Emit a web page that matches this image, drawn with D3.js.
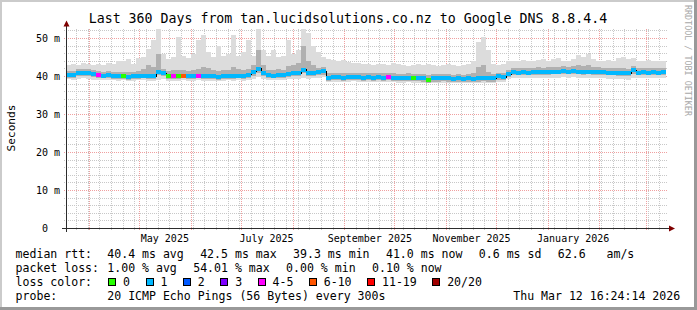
<!DOCTYPE html>
<html>
<head>
<meta charset="utf-8">
<script src="https://cdn.jsdelivr.net/npm/d3@7"></script>
<style>
  html, body { margin: 0; padding: 0; background: #fff; }
  svg text { font-family: "DejaVu Sans Mono", monospace; white-space: pre; }
</style>
</head>
<body>
<svg id="chart" width="697" height="310"></svg>
<script>
// time span of the graph (NZ local time, handled as UTC so the sandbox TZ does not matter)
const END = Date.UTC(2026, 2, 12, 16, 24, 14);
const DAY = 864e5;
const START = END - 360 * DAY;
const BIN_DAYS = 3; // each value below covers 3 days

const TITLE = "Last 360 Days from tan.lucidsolutions.co.nz to Google DNS 8.8.4.4";
const yTicks = [0, 10, 20, 30, 40, 50];

// median rtt (ms) per bin
const median = [
  40.3, 40.4, 40.8, 41.0, 41.0, 40.6, 40.3, 40.2, 40.3, 40.1,
  40.0, 40.0, 39.9, 40.0, 40.1, 40.2, 40.0, 40.1, 41.2, 40.9,
  40.0, 40.1, 40.0, 40.2, 40.1, 40.0, 40.2, 40.0, 40.1, 40.0,
  39.9, 40.0, 40.1, 40.0, 40.2, 40.0, 40.5, 41.2, 42.0, 40.8,
  40.3, 40.2, 40.4, 40.3, 40.6, 40.8, 40.8, 41.8, 40.8, 41.0,
  41.1, 41.4, 39.7, 39.8, 39.8, 39.7, 39.8, 39.9, 39.8, 39.7,
  39.8, 39.7, 39.8, 39.7, 39.8, 39.7, 39.6, 39.6, 39.7, 39.6,
  39.6, 39.5, 39.2, 39.5, 39.5, 39.6, 39.5, 39.4, 39.5, 39.4,
  39.5, 39.4, 39.5, 39.6, 39.5, 39.5, 40.0, 39.8, 40.6, 41.1,
  41.0, 41.1, 41.0, 41.1, 41.2, 41.1, 41.2, 41.3, 41.3, 41.4,
  41.3, 41.4, 41.3, 41.2, 41.3, 41.2, 41.2, 41.1, 41.0, 41.0,
  40.9, 40.9, 40.8, 41.6, 41.0, 41.1, 41.0, 41.1, 41.0, 41.1
];
// loss colour class per bin (index into lossLabels)
const lossClass = [
  1, 1, 1, 1, 1, 1, 4, 1, 1, 1,
  1, 0, 1, 1, 1, 1, 1, 1, 1, 1,
  0, 4, 0, 5, 1, 1, 4, 1, 1, 1,
  1, 1, 1, 1, 1, 1, 1, 1, 1, 1,
  1, 1, 1, 1, 1, 1, 1, 1, 1, 1,
  1, 1, 1, 1, 1, 1, 1, 1, 1, 1,
  1, 1, 1, 1, 4, 1, 1, 1, 1, 0,
  1, 1, 0, 1, 1, 1, 1, 1, 1, 1,
  1, 1, 1, 1, 1, 1, 1, 1, 1, 1,
  1, 1, 1, 1, 1, 1, 1, 1, 1, 1,
  1, 1, 1, 1, 1, 1, 1, 1, 1, 1,
  1, 1, 1, 1, 1, 1, 1, 1, 1, 1
];
// smoke: fastest and slowest ping per bin (ms)
const smokeMin = [
  39.3, 39.2, 39.4, 39.5, 39.4, 39.2, 39.0, 39.1, 39.2, 39.0,
  38.9, 39.0, 38.8, 38.9, 39.0, 39.0, 38.8, 38.9, 39.2, 39.3,
  38.9, 38.8, 38.9, 39.0, 38.9, 38.8, 39.0, 38.9, 38.9, 38.8,
  38.8, 38.9, 39.0, 38.9, 39.0, 38.9, 39.1, 39.4, 39.8, 39.4,
  39.1, 39.0, 39.2, 39.1, 39.3, 39.4, 39.4, 39.5, 39.4, 39.5,
  39.6, 39.8, 38.5, 38.6, 38.6, 38.5, 38.6, 38.7, 38.6, 38.5,
  38.6, 38.5, 38.6, 38.5, 38.6, 38.5, 38.4, 38.4, 38.5, 38.4,
  38.4, 38.3, 38.2, 38.3, 38.3, 38.4, 38.3, 38.2, 38.3, 38.2,
  38.3, 38.2, 38.3, 38.4, 38.3, 38.3, 38.6, 38.6, 39.3, 39.6,
  39.5, 39.6, 39.5, 39.6, 39.6, 39.5, 39.6, 39.7, 39.7, 39.8,
  39.7, 39.8, 39.7, 39.6, 39.7, 39.6, 39.6, 39.5, 39.4, 39.4,
  39.3, 39.3, 39.2, 39.6, 39.5, 39.6, 39.5, 39.6, 39.5, 39.6
];
const smokeMax = [
  43.0, 43.2, 43.0, 43.5, 43.2, 43.0, 43.4, 43.0, 43.6, 43.2,
  44.2, 44.0, 44.5, 43.4, 44.8, 45.0, 47.2, 49.6, 52.6, 46.0,
  44.5, 45.0, 50.4, 45.5, 44.8, 46.0, 49.5, 51.0, 46.5, 45.0,
  48.0, 45.5, 46.0, 51.0, 45.5, 46.5, 49.6, 45.5, 52.6, 47.0,
  45.5, 47.0, 45.0, 45.5, 49.6, 46.0, 47.0, 52.6, 51.5, 48.0,
  46.5, 45.0, 44.5, 44.3, 44.0, 44.3, 43.8, 43.5, 43.5, 43.3,
  43.2, 43.0, 43.4, 43.2, 43.0, 43.5, 43.2, 43.0, 42.8, 43.0,
  43.2, 43.0, 43.4, 43.0, 42.8, 43.0, 43.2, 43.0, 42.8, 43.0,
  43.2, 44.0, 49.2, 50.4, 47.0, 43.2, 43.0, 43.3, 44.0, 44.2,
  44.0, 44.4, 44.2, 44.0, 44.3, 44.5, 44.2, 44.6, 44.8, 44.2,
  44.0, 44.6, 45.6, 45.2, 46.0, 44.5, 44.2, 44.0, 44.3, 44.0,
  44.8, 45.0, 44.6, 44.8, 44.2, 44.0, 44.4, 44.0, 44.2, 44.0
];
// smoke: inner (denser) part of the ping distribution
const smokeInnerLo = [
  39.7, 39.7, 40.0, 40.2, 40.2, 39.9, 39.6, 39.5, 39.6, 39.4,
  39.3, 39.4, 39.2, 39.3, 39.4, 39.5, 39.3, 39.4, 40.4, 40.1,
  39.3, 39.3, 39.3, 39.5, 39.4, 39.3, 39.5, 39.3, 39.4, 39.3,
  39.2, 39.3, 39.4, 39.3, 39.5, 39.3, 39.6, 40.2, 41.0, 40.1,
  39.6, 39.5, 39.7, 39.6, 39.9, 40.0, 40.0, 40.8, 40.0, 40.2,
  40.3, 40.5, 38.9, 39.0, 39.0, 38.9, 39.0, 39.1, 39.0, 38.9,
  39.0, 38.9, 39.0, 38.9, 39.0, 38.9, 38.8, 38.8, 38.8, 38.7,
  38.7, 38.6, 38.4, 38.6, 38.6, 38.7, 38.6, 38.5, 38.6, 38.5,
  38.6, 38.5, 38.6, 38.7, 38.6, 38.6, 39.1, 39.0, 39.9, 40.4,
  40.3, 40.4, 40.3, 40.4, 40.5, 40.4, 40.5, 40.6, 40.6, 40.7,
  40.6, 40.7, 40.6, 40.5, 40.6, 40.5, 40.5, 40.4, 40.3, 40.3,
  40.2, 40.2, 40.1, 40.7, 40.3, 40.4, 40.3, 40.4, 40.3, 40.4
];
const smokeInnerHi = [
  41.4, 41.5, 41.9, 42.1, 42.0, 41.7, 41.4, 41.3, 41.5, 41.2,
  41.3, 41.2, 41.1, 41.2, 41.5, 42.0, 43.0, 42.5, 46.0, 42.0,
  41.4, 41.6, 41.6, 41.8, 41.5, 41.6, 41.9, 42.5, 42.3, 41.6,
  41.5, 41.6, 41.7, 42.5, 41.9, 41.6, 42.0, 43.0, 47.0, 43.0,
  41.8, 41.6, 41.9, 41.8, 42.8, 43.0, 43.5, 48.0, 44.0, 43.0,
  42.2, 42.6, 40.8, 40.9, 40.9, 40.8, 40.9, 41.0, 40.9, 40.8,
  40.9, 40.8, 40.9, 40.8, 41.0, 40.8, 40.7, 40.7, 40.8, 40.7,
  40.7, 40.6, 40.5, 40.6, 40.6, 40.7, 40.6, 40.5, 40.6, 40.5,
  40.6, 40.8, 42.5, 43.0, 41.2, 40.6, 41.0, 40.9, 41.8, 42.3,
  42.2, 42.3, 42.2, 42.3, 42.4, 42.3, 42.5, 42.6, 42.6, 42.7,
  42.5, 42.7, 42.9, 42.8, 43.0, 42.5, 42.4, 42.3, 42.2, 42.2,
  42.2, 42.3, 42.1, 42.8, 42.3, 42.3, 42.2, 42.3, 42.2, 42.3
];

const lossLabels = ["0", "1", "2", "3", "4-5", "6-10", "11-19", "20/20"];
const lossColors = ["#26ff00", "#00b8ff", "#0059ff", "#7e00ff", "#ff00ff", "#ff5500", "#ff0000", "#a10000"];
const rttStats = ["40.4 ms avg", "42.5 ms max", "39.3 ms min", "41.0 ms now", "0.6 ms sd", "62.6   am/s"];
const lossStats = ["1.00 % avg", "54.01 % max", "0.00 % min", "0.10 % now"];
const PROBE = "20 ICMP Echo Pings (56 Bytes) every 300s";
const STAMP = "Thu Mar 12 16:24:14 2026";

const svg = d3.select("#chart");
const plot = { left: 66, right: 666, top: 28.5, bottom: 228.5 };
const x = d3.scaleUtc().domain([new Date(START), new Date(END)]).range([plot.left, plot.right]);
const y = d3.scaleLinear().domain([0, 52.63]).range([plot.bottom, plot.top]);
const px = (t) => Math.floor(x(t)) + 0.5;
const py = (v) => Math.floor(y(v)) + 0.5;

// background + 3d frame
svg.append("rect").attr("width", 697).attr("height", 310).attr("fill", "#ffffff");
svg.append("rect").attr("x", 0).attr("y", 0).attr("width", 697).attr("height", 2).attr("fill", "#cbcbcb");
svg.append("rect").attr("x", 0).attr("y", 0).attr("width", 2).attr("height", 310).attr("fill", "#cbcbcb");
svg.append("rect").attr("x", 0).attr("y", 307).attr("width", 697).attr("height", 3).attr("fill", "#999999");
svg.append("rect").attr("x", 694).attr("y", 0).attr("width", 3).attr("height", 310).attr("fill", "#999999");

// grid
const grid = svg.append("g").attr("fill", "none").attr("stroke-dasharray", "1,1").attr("shape-rendering", "crispEdges");
const weeks = d3.utcMonday.range(new Date(START), new Date(END));
const months = d3.utcMonth.range(new Date(START), new Date(END));
const minorY = d3.range(2, 53, 2).filter((v) => v % 10 !== 0);
grid.selectAll("line.wk").data(weeks).join("line")
  .attr("x1", px).attr("x2", px).attr("y1", plot.top).attr("y2", plot.bottom + 2.5)
  .attr("stroke", "#c8c8c8");
grid.selectAll("line.my").data(minorY).join("line")
  .attr("x1", plot.left - 2).attr("x2", plot.right + 2).attr("y1", py).attr("y2", py)
  .attr("stroke", "#c8c8c8");
grid.append("g").selectAll("line").data(months).join("line")
  .attr("x1", px).attr("x2", px).attr("y1", plot.top).attr("y2", plot.bottom + 2.5)
  .attr("stroke", "#f0a0a0");
grid.append("g").selectAll("line").data(yTicks.filter((v) => v > 0)).join("line")
  .attr("x1", plot.left - 2).attr("x2", plot.right + 2).attr("y1", py).attr("y2", py)
  .attr("stroke", "#f0a0a0");

// data
const bins = median.map((m, i) => ({
  t0: new Date(START + i * BIN_DAYS * DAY),
  t1: new Date(START + (i + 1) * BIN_DAYS * DAY),
  med: m, loss: lossClass[i],
  lo: smokeMin[i], hi: smokeMax[i], ilo: smokeInnerLo[i], ihi: smokeInnerHi[i]
}));
svg.append("clipPath").attr("id", "clip").append("rect")
  .attr("x", plot.left + 1).attr("y", plot.top).attr("width", plot.right - plot.left).attr("height", plot.bottom - plot.top);
const data = svg.append("g").attr("clip-path", "url(#clip)").attr("shape-rendering", "crispEdges");
const bx = (d) => Math.round(x(d.t0));
const bw = (d) => Math.round(x(d.t1)) - Math.round(x(d.t0));
data.append("g").selectAll("rect").data(bins).join("rect")
  .attr("x", bx).attr("width", bw)
  .attr("y", (d) => y(d.hi)).attr("height", (d) => y(d.lo) - y(d.hi))
  .attr("fill", "#dcdcdc");
data.append("g").selectAll("rect").data(bins).join("rect")
  .attr("x", bx).attr("width", bw)
  .attr("y", (d) => y(d.ihi)).attr("height", (d) => y(d.ilo) - y(d.ihi))
  .attr("fill", "#b0b0b0");
const step = d3.line().curve(d3.curveStepAfter).x((d) => x(d[0])).y((d) => y(d[1]));
const stepPts = bins.map((d) => [d.t0, d.med]).concat([[bins[bins.length - 1].t1, bins[bins.length - 1].med]]);
data.append("path").attr("d", step(stepPts)).attr("fill", "none").attr("stroke", "#000").attr("stroke-width", 1);
data.append("g").selectAll("rect").data(bins).join("rect")
  .attr("x", bx).attr("width", bw)
  .attr("y", (d) => Math.round(y(d.med)) - 2).attr("height", 4)
  .attr("fill", (d) => lossColors[d.loss]);

// axes
const axisCol = "#2c2c2c";
svg.append("line").attr("x1", plot.left - 4).attr("x2", 670).attr("y1", plot.bottom).attr("y2", plot.bottom)
  .attr("stroke", axisCol).attr("shape-rendering", "crispEdges");
svg.append("line").attr("x1", plot.left + 0.5).attr("x2", plot.left + 0.5).attr("y1", plot.bottom + 3).attr("y2", 25)
  .attr("stroke", axisCol).attr("shape-rendering", "crispEdges");
svg.append("path").attr("d", "M63.5,26.5L69.5,26.5L66.5,20.5Z").attr("fill", "#7f0000");
svg.append("path").attr("d", "M669,225.5L669,231.5L675,228.5Z").attr("fill", "#7f0000");

// y labels
svg.append("g").selectAll("text").data(yTicks).join("text")
  .attr("x", 60).attr("y", (d) => py(d) + 3.5).attr("text-anchor", "end")
  .style("font-size", "10px").attr("fill", "#000")
  .text((d) => (d === 0 ? "0  " : `${d} m`));
svg.append("text").attr("transform", "translate(14.5,128) rotate(-90)").attr("text-anchor", "middle")
  .style("font-size", "11.1px").text("Seconds");

// x labels, every second month, centred mid-month, only inside the time span
const labelMonths = months
  .filter((m) => m.getUTCMonth() % 2 === 0)
  .filter((m) => +m + 15 * DAY < END);
svg.append("g").selectAll("text").data(labelMonths).join("text")
  .attr("x", (d) => x(new Date(+d + 15 * DAY))).attr("y", 241.5).attr("text-anchor", "middle")
  .style("font-size", "10px").text(d3.utcFormat("%B %Y"));

// title + watermark
svg.append("text").attr("x", 348).attr("y", 23.3).attr("text-anchor", "middle")
  .style("font-size", "13.25px").text(TITLE);
svg.append("text").attr("transform", "translate(684.5,5) rotate(90)")
  .style("font-size", "8.4px").attr("fill", "#a8a8a8").text("RRDTOOL / TOBI OETIKER");

// legend
const LF = "11.56px";
function row(yy, label, items, gap) {
  svg.append("text").attr("x", 15.6).attr("y", yy).style("font-size", LF).text(label);
  let cx = 107.3;
  items.forEach((s) => {
    const t = svg.append("text").attr("x", cx).attr("y", yy).style("font-size", LF).text(s);
    cx += t.node().getComputedTextLength() + gap;
  });
}
row(258, "median rtt:", rttStats, 16.4);
row(272, "packet loss:", lossStats, 16.4);
svg.append("text").attr("x", 15.6).attr("y", 286).style("font-size", LF).text("loss color:");
let lx = 108.3;
lossLabels.forEach((lab, i) => {
  svg.append("rect").attr("x", Math.round(lx) + 0.5).attr("y", 278.5).attr("width", 7).attr("height", 7)
    .attr("fill", lossColors[i]).attr("stroke", "#000");
  const t = svg.append("text").attr("x", lx + 14.8).attr("y", 286).style("font-size", LF).text(lab);
  lx += 14.8 + t.node().getComputedTextLength() + 15.6;
});
row(300, "probe:", [PROBE], 0);
svg.append("text").attr("x", 513.3).attr("y", 300).style("font-size", LF).text(STAMP);
</script>
</body>
</html>
